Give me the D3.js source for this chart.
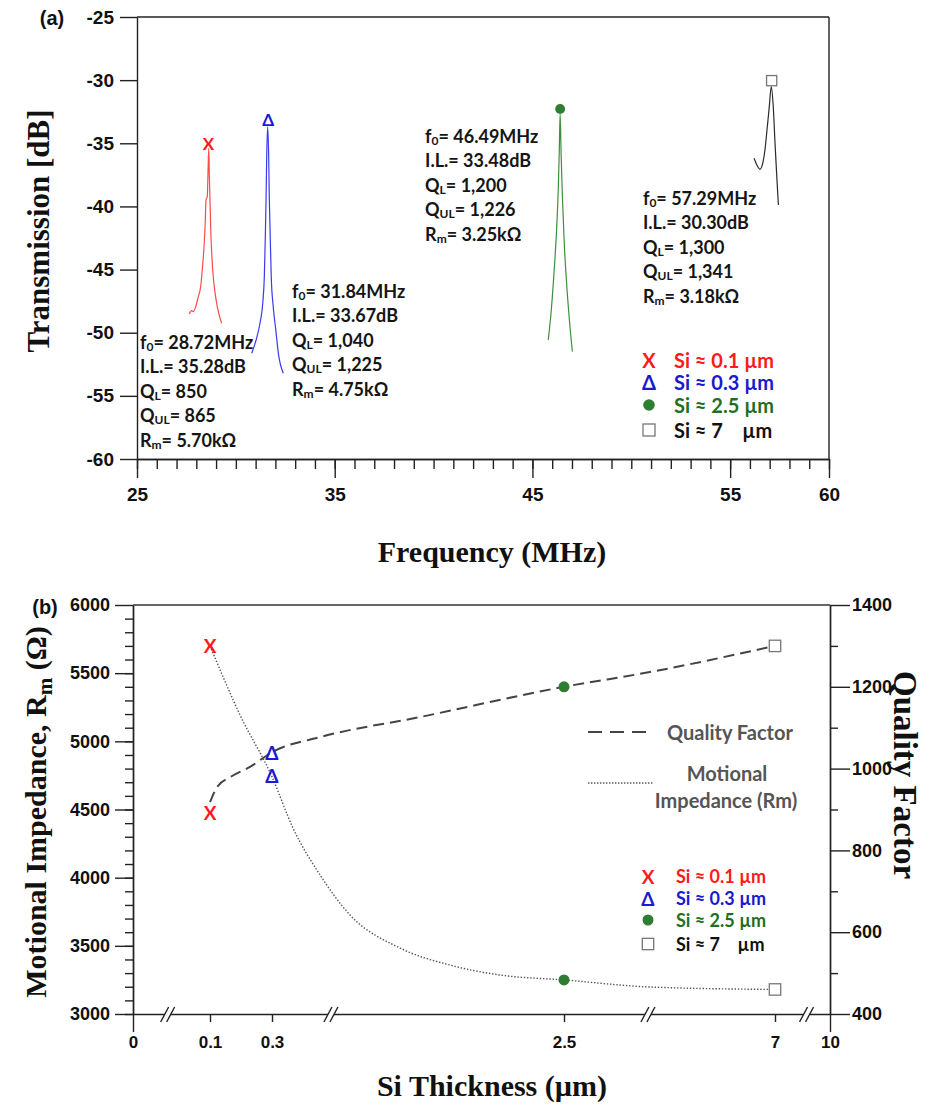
<!DOCTYPE html>
<html lang="en">
<head>
<meta charset="utf-8">
<title>Resonator response vs Si thickness</title>
<script src="https://cdn.jsdelivr.net/npm/d3@7"></script>
<style>
body { margin: 0; background: #fff; }
.tick-lab { font-family: "Liberation Sans", Arial, sans-serif; font-weight: bold; font-size: 19px; fill: #111; }
.title { font-family: "Liberation Serif", "Times New Roman", serif; font-weight: bold; font-size: 30px; fill: #111; }
.note { font-family: Lato, "Open Sans", sans-serif; font-weight: bold; font-size: 18px; fill: #151515; }
.leg { font-family: Lato, "Open Sans", sans-serif; font-weight: bold; font-size: 20px; white-space: pre; }
.panel { font-family: "Liberation Sans", Arial, sans-serif; font-weight: bold; font-size: 20px; fill: #111; }
</style>
</head>
<body>
<svg id="chart" width="933" height="1109"></svg>
<script>
// ---- data: panel (a), transmission spectra [MHz, dB] ----
var spec01 = [[27.645,-48.52],[27.767,-48.25],[27.848,-48.33],[27.969,-47.94],[28.10,-47.15],[28.22,-46.35],
  [28.30,-45.03],[28.39,-43.19],[28.45,-41.31],[28.49,-39.49],[28.556,-39.23],[28.59,-37.35],[28.63,-35.4],
  [28.66,-37.64],[28.73,-41.86],[28.83,-45.03],[28.95,-46.85],[29.06,-47.94],[29.28,-49.25]];
var spec03 = [[30.80,-51.63],[30.92,-51.10],[31.05,-50.44],[31.22,-49.25],[31.36,-47.67],[31.44,-45.56],
  [31.49,-42.40],[31.53,-39.23],[31.56,-36.06],[31.61,-33.69],[31.66,-36.06],[31.69,-39.23],[31.73,-41.86],
  [31.79,-45.56],[31.89,-47.94],[32.02,-49.78],[32.15,-51.63],[32.40,-53.21]];
var spec25 = [[45.80,-50.57],[45.94,-48.46],[46.09,-45.29],[46.23,-41.60],[46.31,-38.44],[46.36,-35.53],
  [46.40,-32.62],[46.45,-35.79],[46.51,-38.96],[46.61,-42.92],[46.74,-46.35],[46.87,-48.99],[47.02,-51.50]];
var spec7 = [[56.21,-36.19],[56.35,-36.72],[56.51,-37.06],[56.65,-36.58],[56.76,-35.53],[56.88,-33.69],
  [56.98,-32.10],[57.08,-30.52],[57.19,-32.36],[57.27,-35.0],[57.36,-37.64],[57.44,-39.89]];
var peakF = [28.61, 31.64, 46.40, 57.10];
var peakDb = [-35.0, -33.1, -32.28, -30.04];

var freqMajor = [25, 35, 45, 55, 60];
var dbTicks = [-60, -55, -50, -45, -40, -35, -30, -25];

var noteF0 = ["28.72MHz", "31.84MHz", "46.49MHz", "57.29MHz"];
var noteIL = ["35.28dB", "33.67dB", "33.48dB", "30.30dB"];
var noteQL = ["850", "1,040", "1,200", "1,300"];
var noteQUL = ["865", "1,225", "1,226", "1,341"];
var noteRm = ["5.70k\u03A9", "4.75k\u03A9", "3.25k\u03A9", "3.18k\u03A9"];

var legendLabels = ["Si \u2248 0.1 \u00B5m", "Si \u2248 0.3 \u00B5m", "Si \u2248 2.5 \u00B5m", "Si \u2248 7    \u00B5m"];

// ---- data: panel (b) ----
var thickness = [0.1, 0.3, 2.5, 7];
var qValues = [893, 1040, 1200, 1300];
var rmValues = [5700, 4750, 3250, 3180];
var qCurve = [[0.1,918],[0.123,955],[0.165,979],[0.229,1004],[0.3,1040],[0.662,1077],[1.415,1126],[2.5,1200],[4.33,1236],[7,1300]];
var rmCurve = [[0.1,5700],[0.197,5193],[0.3,4740],[0.458,4364],[0.662,4020],[0.888,3726],[1.264,3484],[1.641,3359],[2.018,3286],[2.5,3250],[4.33,3198],[7,3180]];
var thickTicks = [0, 0.1, 0.3, 2.5, 7, 10];
var axisBreaks = [0.045, 0.744, 4.29, 8.72];
var rmMajor = d3.range(3000, 6001, 500);
var rmMinor = d3.range(3000, 6000, 100);
var qMajor = d3.range(400, 1401, 200);
var qMinor = d3.range(500, 1400, 200);

// ---- styles ----
var markKinds = ["x", "tri", "dot", "sq"];
var lineColors = ["#ff4a4a", "#3a3aee", "#3f8f3f", "#2a2a2a"];
var markColors = ["#ff1a1a", "#1a1ad0", "#2f7d32", "#777"];
var legColors = ["#ff1a1a", "#1a1acc", "#1f6f1f", "#111"];

var svg = d3.select("#chart");

function drawMarker(g, kind, x, y, size) {
  if (kind === "x" || kind === "tri") {
    g.append("text").attr("x", x).attr("y", y)
      .attr("text-anchor", "middle").attr("dominant-baseline", "central")
      .style("font-family", "Lato, sans-serif").style("font-weight", "bold")
      .style("font-size", size + "px")
      .style("fill", kind === "x" ? markColors[0] : markColors[1])
      .text(kind === "x" ? "X" : "\u0394");
  } else if (kind === "dot") {
    g.append("circle").attr("cx", x).attr("cy", y).attr("r", size * 0.29).attr("fill", markColors[2]);
  } else {
    var s = size * 0.6;
    g.append("rect").attr("x", x - s / 2).attr("y", y - s / 2).attr("width", s).attr("height", s)
      .attr("fill", "#fff").attr("stroke", markColors[3]).attr("stroke-width", 1.3);
  }
}

function styleAxis(g) {
  g.selectAll("path.domain").attr("stroke", "#222").attr("stroke-width", 1.4);
  g.selectAll(".tick line").attr("stroke", "#222").attr("stroke-width", 1.4);
  g.selectAll(".tick text").attr("class", "tick-lab").attr("fill", null);
}

// ================= panel (a) =================
var xTop = d3.scaleLinear().domain([25, 60]).range([137, 829]);
var yTop = d3.scaleLinear().domain([-60, -25]).range([459, 17]);

var a = svg.append("g");

// frame top/right
a.append("line").attr("x1", xTop(25)).attr("x2", xTop(60)).attr("y1", yTop(-25)).attr("y2", yTop(-25))
  .attr("stroke", "#222").attr("stroke-width", 1.4);
a.append("line").attr("x1", xTop(60)).attr("x2", xTop(60)).attr("y1", yTop(-25)).attr("y2", yTop(-60))
  .attr("stroke", "#222").attr("stroke-width", 1.4);

var axMinor = a.append("g").attr("transform", "translate(0," + yTop(-60) + ")")
  .call(d3.axisBottom(xTop).tickValues(d3.range(25, 61)).tickSize(10).tickSizeOuter(0).tickFormat(""));
styleAxis(axMinor);
var axMajor = a.append("g").attr("transform", "translate(0," + yTop(-60) + ")")
  .call(d3.axisBottom(xTop).tickValues(freqMajor).tickSize(19).tickSizeOuter(0).tickPadding(10).tickFormat(d3.format("d")));
styleAxis(axMajor);

var ayTop = a.append("g").attr("transform", "translate(" + xTop(25) + ",0)")
  .call(d3.axisLeft(yTop).tickValues(dbTicks).tickSize(17).tickSizeOuter(0).tickPadding(6).tickFormat(d3.format("d")));
styleAxis(ayTop);
ayTop.selectAll(".tick text").text(function (d) { return String(d); });

var specLine = d3.line().x(function (d) { return xTop(d[0]); }).y(function (d) { return yTop(d[1]); })
  .curve(d3.curveMonotoneX);
[spec01, spec03, spec25, spec7].forEach(function (s, i) {
  a.append("path").attr("d", specLine(s)).attr("fill", "none")
    .attr("stroke", lineColors[i]).attr("stroke-width", 1.2);
});
peakF.forEach(function (f, i) {
  drawMarker(a, markKinds[i], xTop(f), yTop(peakDb[i]), 17);
});

// annotation blocks
var noteAt = [[25.15, -50.73], [32.84, -46.7], [39.57, -34.42], [50.59, -39.33]];
function subLine(t, main, sub, rest) {
  t.append("tspan").text(main);
  if (sub) t.append("tspan").attr("dy", 4).style("font-size", "12px").text(sub);
  t.append("tspan").attr("dy", sub ? -4 : 0).text(rest);
}
noteAt.forEach(function (p, i) {
  var x0 = xTop(p[0]), y0 = yTop(p[1]);
  var rows = [["f", "0", "= " + noteF0[i]], ["I.L.= " + noteIL[i], null, ""],
    ["Q", "L", "= " + noteQL[i]], ["Q", "UL", "= " + noteQUL[i]], ["R", "m", "= " + noteRm[i]]];
  rows.forEach(function (r, k) {
    var t = a.append("text").attr("class", "note").attr("x", x0).attr("y", y0 + k * 24.4)
      .attr("dominant-baseline", "central");
    subLine(t, r[0], r[1], r[2]);
  });
});

// legend (a)
var legA = [360, 382, 405, 430];
legendLabels.forEach(function (l, i) {
  drawMarker(a, markKinds[i], 649, legA[i], 20);
  a.append("text").attr("class", "leg").attr("x", 674).attr("y", legA[i])
    .attr("dominant-baseline", "central").style("fill", legColors[i]).text(l);
});

a.append("text").attr("class", "panel").attr("x", 52).attr("y", 18).attr("text-anchor", "middle")
  .attr("dominant-baseline", "central").text("(a)");
a.append("text").attr("class", "title").attr("text-anchor", "middle").style("font-size", "31px")
  .attr("transform", "translate(49,231) rotate(-90)").text("Transmission [dB]");
a.append("text").attr("class", "title").attr("x", 492).attr("y", 562).attr("text-anchor", "middle")
  .text("Frequency (MHz)");

// ================= panel (b) =================
var xBot = d3.scaleLinear().domain([0, 0.1, 0.3, 2.5, 7, 10]).range([133, 210, 272, 564, 775, 830]);
var yRm = d3.scaleLinear().domain([3000, 6000]).range([1014, 605]);
var yQ = d3.scaleLinear().domain([400, 1400]).range([1014, 605]);

var b = svg.append("g");

b.append("line").attr("x1", xBot(0)).attr("x2", xBot(10)).attr("y1", yRm(6000)).attr("y2", yRm(6000))
  .attr("stroke", "#333").attr("stroke-width", 1.4);

var bl1 = b.append("g").attr("transform", "translate(" + xBot(0) + ",0)")
  .call(d3.axisLeft(yRm).tickValues(rmMinor).tickSize(8).tickSizeOuter(0).tickFormat(""));
styleAxis(bl1);
var bl2 = b.append("g").attr("transform", "translate(" + xBot(0) + ",0)")
  .call(d3.axisLeft(yRm).tickValues(rmMajor).tickSize(18).tickSizeOuter(0).tickPadding(5).tickFormat(d3.format("d")));
styleAxis(bl2);
bl2.selectAll(".tick text").style("font-size", "18px");

var br1 = b.append("g").attr("transform", "translate(" + xBot(10) + ",0)")
  .call(d3.axisRight(yQ).tickValues(qMinor).tickSize(8).tickSizeOuter(0).tickFormat(""));
styleAxis(br1);
var br2 = b.append("g").attr("transform", "translate(" + xBot(10) + ",0)")
  .call(d3.axisRight(yQ).tickValues(qMajor).tickSize(20).tickSizeOuter(0).tickPadding(2).tickFormat(d3.format("d")));
styleAxis(br2);
br2.selectAll(".tick text").style("font-size", "18px");

var bx = b.append("g").attr("transform", "translate(0," + yRm(3000) + ")")
  .call(d3.axisBottom(xBot).tickValues(thickTicks).tickSize(8).tickSizeOuter(0).tickPadding(14)
    .tickFormat(function (d) { return String(d); }));
styleAxis(bx);
bx.selectAll(".tick line").attr("y2", function (d) { return (d === 0 || d === 10) ? 18 : 8; });
bx.selectAll(".tick text").style("font-size", "17px");

// axis breaks
axisBreaks.forEach(function (v) {
  var x = xBot(v), y = yRm(3000);
  b.append("rect").attr("x", x - 3).attr("y", y - 2).attr("width", 6).attr("height", 4).attr("fill", "#fff");
  [-3, 3].forEach(function (o) {
    b.append("line").attr("x1", x + o - 4).attr("y1", y + 8).attr("x2", x + o + 4).attr("y2", y - 7)
      .attr("stroke", "#222").attr("stroke-width", 1.4);
  });
});

var qLine = d3.line().x(function (d) { return xBot(d[0]); }).y(function (d) { return yQ(d[1]); }).curve(d3.curveMonotoneX);
var rmLine = d3.line().x(function (d) { return xBot(d[0]); }).y(function (d) { return yRm(d[1]); }).curve(d3.curveMonotoneX);
b.append("path").attr("d", qLine(qCurve)).attr("fill", "none").attr("stroke", "#444")
  .attr("stroke-width", 2).attr("stroke-dasharray", "11,6");
b.append("path").attr("d", rmLine(rmCurve)).attr("fill", "none").attr("stroke", "#555")
  .attr("stroke-width", 1.4).attr("stroke-dasharray", "1.4,1.8");

thickness.forEach(function (t, i) {
  drawMarker(b, markKinds[i], xBot(t), yRm(rmValues[i]), 19);
  drawMarker(b, markKinds[i], xBot(t), yQ(qValues[i]), 19);
});

// legend (b)
b.append("line").attr("x1", 588).attr("x2", 648).attr("y1", 732).attr("y2", 732)
  .attr("stroke", "#444").attr("stroke-width", 2).attr("stroke-dasharray", "14,8");
b.append("text").attr("class", "leg").attr("x", 667).attr("y", 732).attr("dominant-baseline", "central")
  .style("fill", "#555").text("Quality Factor");
b.append("line").attr("x1", 588).attr("x2", 653).attr("y1", 783).attr("y2", 783)
  .attr("stroke", "#555").attr("stroke-width", 1.3).attr("stroke-dasharray", "1.4,1.6");
b.append("text").attr("class", "leg").attr("x", 727).attr("y", 773).attr("text-anchor", "middle")
  .attr("dominant-baseline", "central").style("fill", "#555").text("Motional");
b.append("text").attr("class", "leg").attr("x", 726).attr("y", 800).attr("text-anchor", "middle")
  .attr("dominant-baseline", "central").style("fill", "#555").text("Impedance (Rm)");

var legB = [876, 898, 920, 944];
legendLabels.forEach(function (l, i) {
  drawMarker(b, markKinds[i], 648, legB[i], 19);
  b.append("text").attr("class", "leg").attr("x", 676).attr("y", legB[i]).style("font-size", "18px")
    .attr("dominant-baseline", "central").style("fill", legColors[i]).text(l);
});

b.append("text").attr("class", "panel").attr("x", 45).attr("y", 607).attr("text-anchor", "middle")
  .attr("dominant-baseline", "central").text("(b)");
var yl = b.append("text").attr("class", "title").attr("text-anchor", "middle")
  .attr("transform", "translate(46,812) rotate(-90)");
yl.append("tspan").text("Motional Impedance, R");
yl.append("tspan").attr("dy", 6).style("font-size", "21px").text("m");
yl.append("tspan").attr("dy", -6).text(" (\u03A9)");
b.append("text").attr("class", "title").attr("text-anchor", "middle").style("font-size", "33px")
  .attr("transform", "translate(894,775) rotate(90)").text("Quality Factor");
b.append("text").attr("class", "title").attr("x", 492).attr("y", 1096).attr("text-anchor", "middle")
  .text("Si Thickness (\u00B5m)");
</script>
</body>
</html>
